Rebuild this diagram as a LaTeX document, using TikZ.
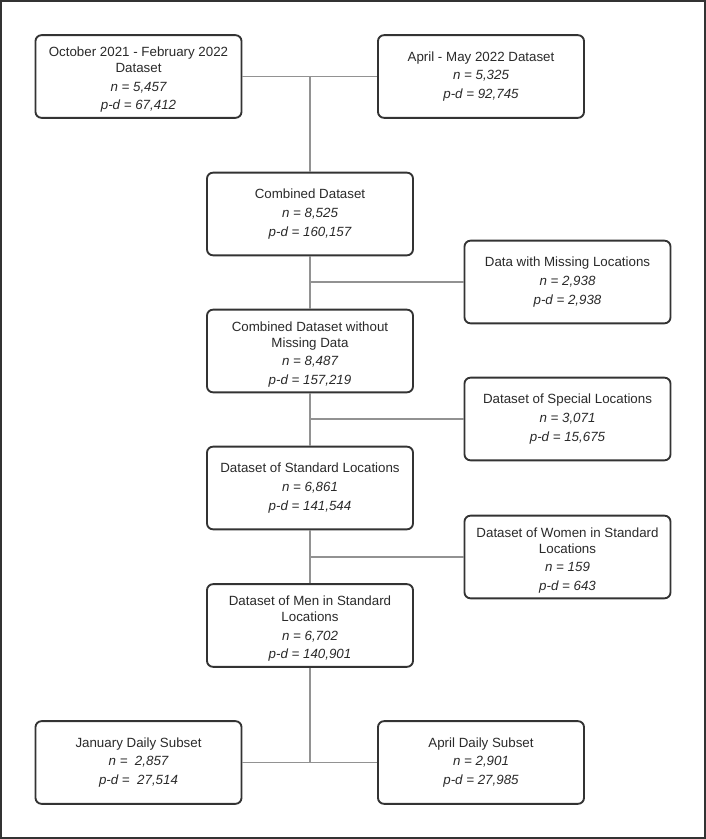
\documentclass[tikz,border=0pt]{standalone}
\usepackage{fontspec}
\setmainfont{Liberation Sans}
\newcommand{\topgap}{\rule{0pt}{12.2pt}}
\begin{document}
\begin{tikzpicture}[x=0.75pt,y=-0.75pt,
  box/.style={draw=boxcol,line width=1.4pt,rounded corners=4.5pt,fill=white,
    minimum width=154.5pt,minimum height=62pt,inner sep=0pt,align=center,
    text=txtcol,font=\fontsize{10}{12}\selectfont},
  link/.style={draw=linkcol,line width=0.8pt}]
\definecolor{boxcol}{HTML}{333333}
\definecolor{txtcol}{HTML}{2A2A2A}
\definecolor{linkcol}{HTML}{929292}
\useasboundingbox (0,0) rectangle (706,839);
\draw[boxcol,line width=1.2pt] (1,1) rectangle (705,838);
\node[box] (oct) at (138.5,76.5) {\topgap October 2021 - February 2022\\Dataset\\[2pt]\itshape n = 5,457\\[2pt]\itshape p-d = 67,412};
\node[box] (apr) at (481,76.5) {April - May 2022 Dataset\\[2pt]\itshape n = 5,325\\[2pt]\itshape p-d = 92,745};
\node[box] (comb) at (310,214) {Combined Dataset\\[2pt]\itshape n = 8,525\\[2pt]\itshape p-d = 160,157};
\node[box] (miss) at (567.5,282) {Data with Missing Locations\\[2pt]\itshape n = 2,938\\[2pt]\itshape p-d = 2,938};
\node[box] (combw) at (310,351) {\topgap Combined Dataset without\\Missing Data\\[2pt]\itshape n = 8,487\\[2pt]\itshape p-d = 157,219};
\node[box] (spec) at (567.5,419) {Dataset of Special Locations\\[2pt]\itshape n = 3,071\\[2pt]\itshape p-d = 15,675};
\node[box] (std) at (310,488) {Dataset of Standard Locations\\[2pt]\itshape n = 6,861\\[2pt]\itshape p-d = 141,544};
\node[box] (women) at (567.5,557) {\topgap Dataset of Women in Standard\\Locations\\[2pt]\itshape n = 159\\[2pt]\itshape p-d = 643};
\node[box] (men) at (310,625.5) {\topgap Dataset of Men in Standard\\Locations\\[2pt]\itshape n = 6,702\\[2pt]\itshape p-d = 140,901};
\node[box] (jan) at (138.5,762.5) {January Daily Subset\\[2pt]\itshape n =\ \ 2,857\\[2pt]\itshape p-d =\ \ 27,514};
\node[box] (aprd) at (481,762.5) {April Daily Subset\\[2pt]\itshape n = 2,901\\[2pt]\itshape p-d = 27,985};
\coordinate (j1) at (310,76.5);
\coordinate (j5) at (310,762.5);
\draw[link] (oct.east) -- (apr.west);
\draw[link] (j1) -- (comb.north);
\draw[link] (comb.south) -- (combw.north);
\draw[link] (comb.south |- miss.west) -- (miss.west);
\draw[link] (combw.south) -- (std.north);
\draw[link] (combw.south |- spec.west) -- (spec.west);
\draw[link] (std.south) -- (men.north);
\draw[link] (std.south |- women.west) -- (women.west);
\draw[link] (men.south) -- (j5);
\draw[link] (jan.east) -- (aprd.west);
\end{tikzpicture}
\end{document}
